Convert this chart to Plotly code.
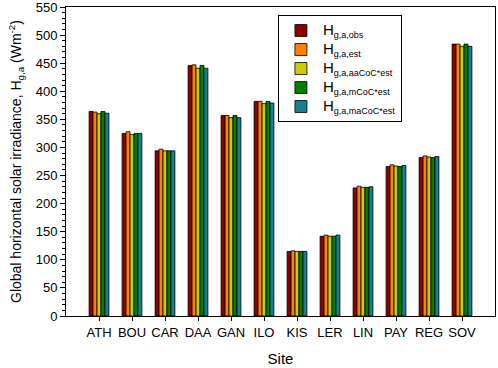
import plotly.graph_objects as go

sites = ["ATH", "BOU", "CAR", "DAA", "GAN", "ILO", "KIS", "LER", "LIN", "PAY", "REG", "SOV"]
h_obs = [364, 325, 294, 446, 357, 382, 115, 142, 228, 266, 282, 484]
h_est = [363, 328, 297, 447, 357, 382, 116, 144, 231, 269, 285, 484]
h_aacoc = [360, 323, 294, 441, 353, 378, 115, 142, 229, 267, 283, 480]
h_mcoc = [364, 325, 294, 446, 357, 382, 115, 142, 229, 266, 282, 484]
h_macoc = [361, 325, 294, 441, 353, 379, 115, 144, 230, 268, 284, 480]

def lab(sub):
    return "<span style='font-size:15px'>H</span><sub><span style='font-size:9px'>" + sub + "</span></sub>"

series = [
    (lab("g,a,obs"), h_obs, "#8B0000"),
    (lab("g,a,est"), h_est, "#FF8000"),
    (lab("g,a,aaCoC*est"), h_aacoc, "#CCCC00"),
    (lab("g,a,mCoC*est"), h_mcoc, "#007F00"),
    (lab("g,a,maCoC*est"), h_macoc, "#18808A"),
]

fig = go.Figure()
for name, vals, col in series:
    fig.add_trace(go.Bar(x=sites, y=vals, name=name, marker=dict(color=col, line=dict(color="black", width=0.8))))

font = "Liberation Sans, Arial, sans-serif"
fig.update_layout(
    width=498, height=368,
    margin=dict(l=66, r=3, t=7, b=52, autoexpand=False),
    paper_bgcolor="white", plot_bgcolor="white",
    barmode="group", bargap=0.4, bargroupgap=0.0,
    font=dict(family=font, size=13, color="black"),
    showlegend=True,
    legend=dict(x=0.494, y=0.974, xanchor="left", yanchor="top",
                bordercolor="black", borderwidth=1, bgcolor="white",
                font=dict(size=12), tracegroupgap=0, itemwidth=34),
    xaxis=dict(range=[-1, 12], showline=True, linecolor="black", linewidth=1, mirror=True,
               ticks="outside", ticklen=4, tickcolor="black", automargin=False,
               tickfont=dict(size=13),
               title=dict(text="Site", font=dict(size=15), standoff=14)),
    yaxis=dict(range=[0, 550], dtick=50, showline=True, linecolor="black", linewidth=1, mirror=True,
               ticks="outside", ticklen=5, tickcolor="black", showgrid=False, zeroline=False,
               minor=dict(dtick=10, ticks="outside", ticklen=3, tickcolor="black"),
               tickfont=dict(size=13), automargin=False, ticklabeloverflow="allow",
               title=dict(text="Global horizontal solar irradiance, H<sub>g,a</sub> (Wm<sup>-2</sup>)",
                          font=dict(size=14), standoff=10)),
)
fig.write_html("out.html", config={"displayModeBar": False},
               post_script="document.body.style.margin='0';")
